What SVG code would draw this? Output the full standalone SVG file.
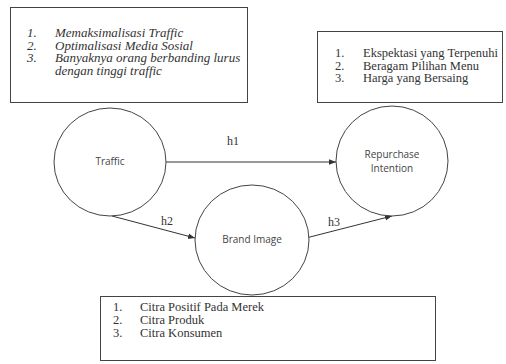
<svg xmlns="http://www.w3.org/2000/svg" width="506" height="364" viewBox="0 0 506 364">
<defs>
<marker id="ah" viewBox="0 0 10 10" refX="10" refY="5" markerWidth="7" markerHeight="7" orient="auto" markerUnits="userSpaceOnUse">
<path d="M0,1 L10,5 L0,9 z" fill="#333"/>
</marker>
<style>
.box{fill:#fff;stroke:#444;stroke-width:1}
.node{fill:#fff;stroke:#444;stroke-width:1}
.it{font-family:"Liberation Serif",serif;font-style:italic;font-size:13px;fill:#333}
.rm{font-family:"Liberation Serif",serif;font-size:12.5px;fill:#333}
.lbl{font-family:"Open Sans","Liberation Sans",sans-serif;font-size:10px;fill:#444;text-anchor:middle}
.h{font-family:"Liberation Serif",serif;font-size:12px;fill:#333;text-anchor:middle}
.edge{stroke:#333;stroke-width:1;fill:none}
</style>
</defs>
<rect width="506" height="364" fill="#fff"/>
<g id="box-traffic">
<rect class="box" x="10.5" y="7.5" width="237" height="95"/>
<text class="it" x="27" y="37">1.</text><text class="it" x="55" y="37">Memaksimalisasi Traffic</text>
<text class="it" x="27" y="49.5">2.</text><text class="it" x="55" y="49.5">Optimalisasi Media Sosial</text>
<text class="it" x="27" y="62">3.</text><text class="it" x="55" y="62">Banyaknya orang berbanding lurus</text>
<text class="it" x="55" y="74.5">dengan tinggi traffic</text>
</g>
<g id="box-repurchase">
<rect class="box" x="317.5" y="31.5" width="185" height="71"/>
<text class="rm" x="335" y="57">1.</text><text class="rm" x="363" y="57">Ekspektasi yang Terpenuhi</text>
<text class="rm" x="335" y="69.5">2.</text><text class="rm" x="363" y="69.5">Beragam Pilihan Menu</text>
<text class="rm" x="335" y="82">3.</text><text class="rm" x="363" y="82">Harga yang Bersaing</text>
</g>
<g id="box-brand">
<rect class="box" x="100.5" y="296.5" width="335" height="64"/>
<text class="rm" x="113" y="311">1.</text><text class="rm" x="140" y="311">Citra Positif Pada Merek</text>
<text class="rm" x="113" y="324">2.</text><text class="rm" x="140" y="324">Citra Produk</text>
<text class="rm" x="113" y="337">3.</text><text class="rm" x="140" y="337">Citra Konsumen</text>
</g>
<g id="connectors">
<line class="edge" x1="166" y1="162" x2="336" y2="162" marker-end="url(#ah)"/>
<line class="edge" x1="112" y1="216" x2="195" y2="238" marker-end="url(#ah)"/>
<line class="edge" x1="306" y1="238" x2="392" y2="216" marker-end="url(#ah)"/>
<text class="h" x="233" y="145">h1</text>
<text class="h" x="167" y="225">h2</text>
<text class="h" x="334" y="226">h3</text>
</g>
<g id="node-traffic">
<ellipse class="node" cx="110" cy="162" rx="56" ry="54"/>
<text class="lbl" x="110" y="165">Traffic</text>
</g>
<g id="node-repurchase">
<ellipse class="node" cx="392" cy="161" rx="56" ry="55"/>
<text class="lbl" x="392" y="158">Repurchase</text>
<text class="lbl" x="392" y="172">Intention</text>
</g>
<g id="node-brand">
<ellipse class="node" cx="252" cy="240" rx="57" ry="55"/>
<text class="lbl" x="252" y="243">Brand Image</text>
</g>
</svg>
